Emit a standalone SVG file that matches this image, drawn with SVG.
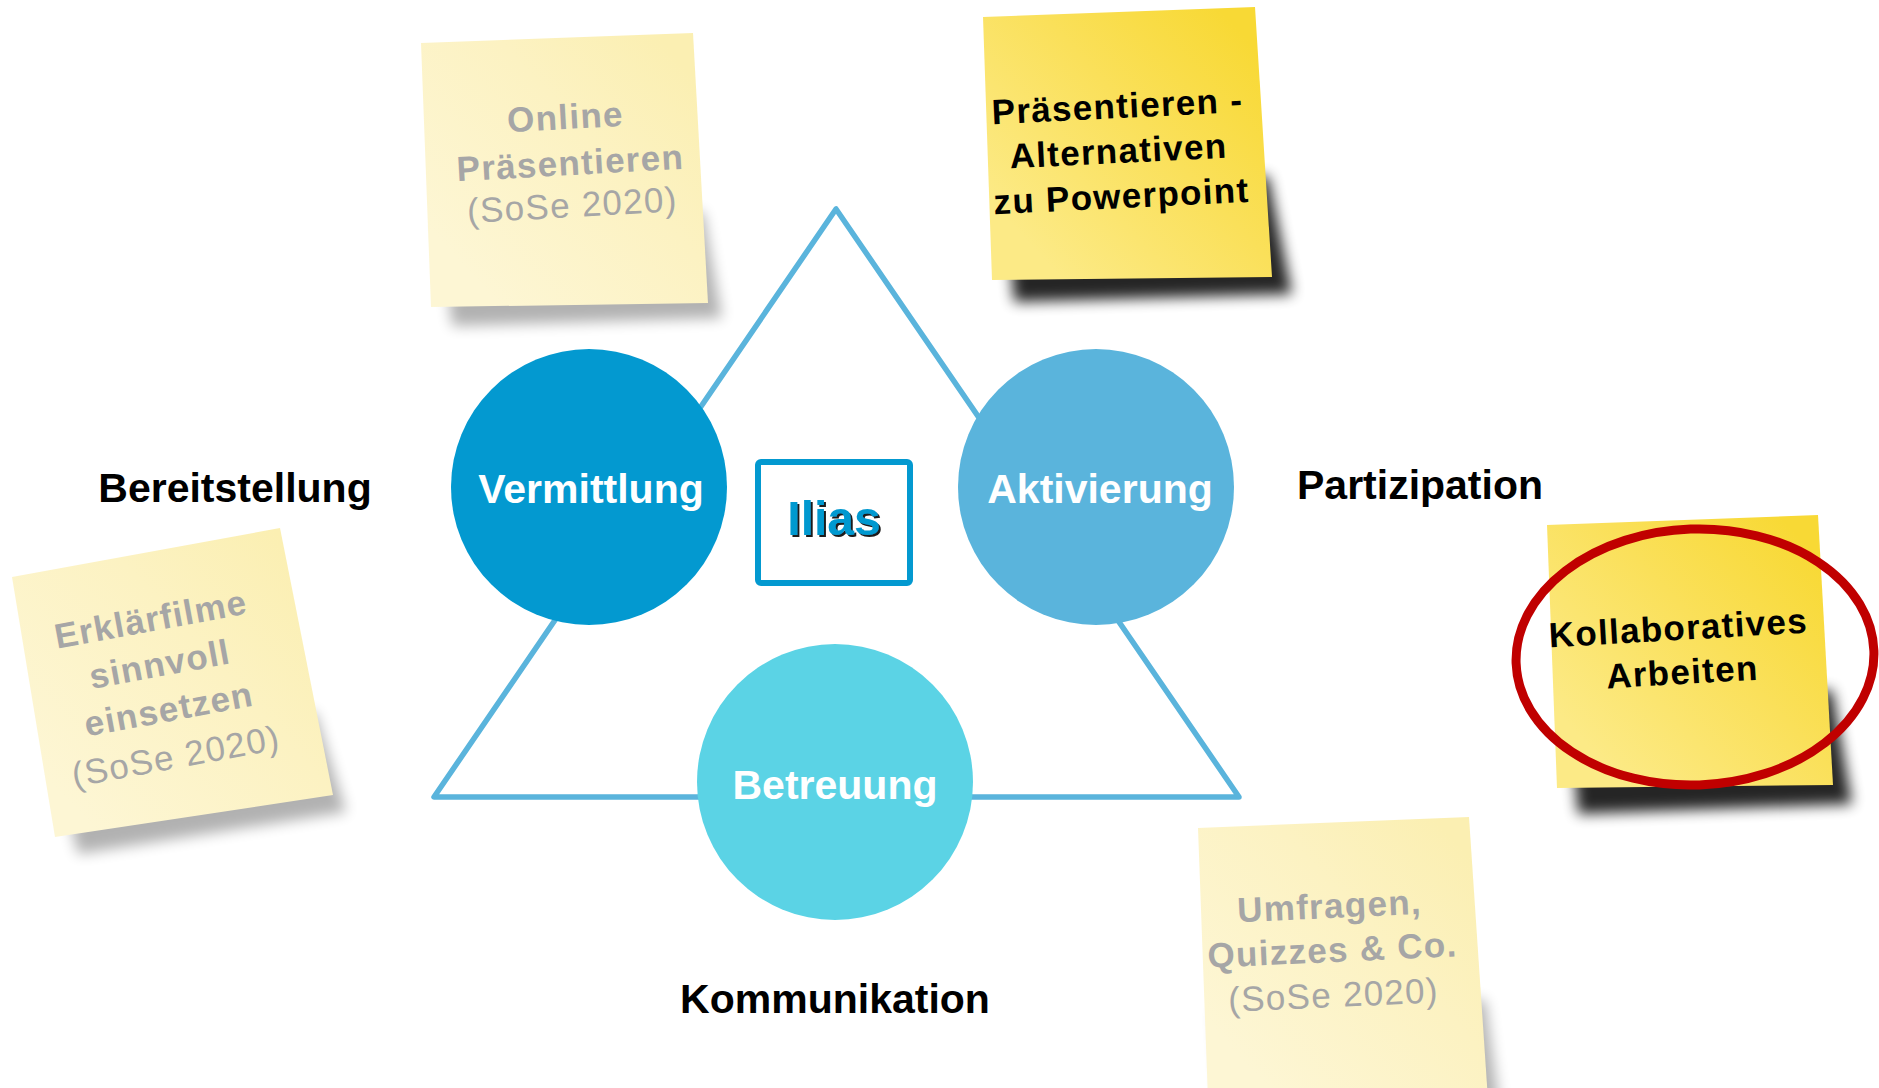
<svg xmlns="http://www.w3.org/2000/svg" width="1879" height="1088" viewBox="0 0 1879 1088">
<style>
.lbl{font-family:"Liberation Sans",Arial,sans-serif;font-weight:bold;font-size:41px;fill:#000;text-anchor:middle}
.ctxt{font-family:"Liberation Sans",Arial,sans-serif;font-weight:bold;font-size:41px;fill:#fff;text-anchor:middle}
.nb{font-family:"Liberation Sans",Arial,sans-serif;font-weight:bold;font-size:35px;letter-spacing:1.3px;text-anchor:middle}
.nr{font-family:"Liberation Sans",Arial,sans-serif;font-weight:normal;font-size:35px;letter-spacing:1.3px;text-anchor:middle}
.gray{fill:#a6a6a6}
.blk{fill:#000}
.pale{fill:url(#gPale)}
.yel{fill:url(#gYel)}
.shP{fill:#000;opacity:0.3;filter:url(#blur)}
.shY{fill:#000;opacity:0.85;filter:url(#blur)}
</style>
<defs>
<linearGradient id="gPale" x1="0.1" y1="0.8" x2="0.9" y2="0.1">
<stop offset="0" stop-color="#fdf6d4"/>
<stop offset="0.6" stop-color="#fcf2c2"/>
<stop offset="1" stop-color="#fbefb2"/>
</linearGradient>
<linearGradient id="gYel" x1="0.1" y1="0.8" x2="0.9" y2="0.1">
<stop offset="0" stop-color="#fcea86"/>
<stop offset="0.55" stop-color="#fae05a"/>
<stop offset="1" stop-color="#f8d935"/>
</linearGradient>
<filter id="blur" x="-20%" y="-30%" width="140%" height="160%">
<feGaussianBlur stdDeviation="7"/>
</filter>
<filter id="ds" x="-10%" y="-10%" width="130%" height="130%">
<feDropShadow dx="2" dy="2" stdDeviation="0.6" flood-color="#1a1a1a" flood-opacity="1"/>
</filter>
</defs>
<rect x="0" y="0" width="1879" height="1088" fill="#fff"/>

<g id="connectors">
<polygon points="836,209 434,797 1239,797" fill="none" stroke="#5ab4dc" stroke-width="5.5" stroke-linejoin="round"/>
</g>

<g id="note-online">
<polygon class="shP" points="440,220 703,212 722,318 452,326"/>
<polygon class="pale" points="421,43 693,33 708,303 431,307"/>
<text class="nb gray" transform="translate(566,129) rotate(-3.2)">Online</text>
<text class="nb gray" transform="translate(571,175) rotate(-3.2)">Präsentieren</text>
<text class="nr gray" transform="translate(573,217) rotate(-3.2)">(SoSe 2020)</text>
</g>

<g id="note-praesentieren">
<polygon class="shY" points="1004,185 1268,176 1292,294 1014,302"/>
<polygon class="yel" points="983,17 1255,7 1272,277 992,280"/>
<text class="nb blk" transform="translate(1118,118) rotate(-2.8)">Präsentieren -</text>
<text class="nb blk" transform="translate(1119,163) rotate(-2.8)">Alternativen</text>
<text class="nb blk" transform="translate(1122,208) rotate(-2.8)">zu Powerpoint</text>
</g>

<g id="note-erklaerfilme">
<polygon class="shP" points="55,760 315,712 346,812 78,854"/>
<polygon class="pale" points="12,577 280,528 333,795 55,837"/>
<text class="nb gray" transform="translate(153,631) rotate(-10.5)">Erklärfilme</text>
<text class="nb gray" transform="translate(162,676) rotate(-10.5)">sinnvoll</text>
<text class="nb gray" transform="translate(171,721) rotate(-10.5)">einsetzen</text>
<text class="nr gray" transform="translate(178,768) rotate(-10.5)">(SoSe 2020)</text>
</g>

<g id="note-umfragen">
<polygon class="shP" points="1215,1010 1485,1000 1500,1110 1222,1110"/>
<polygon class="pale" points="1198,828 1469,817 1488,1100 1208,1100"/>
<text class="nb gray" transform="translate(1330,918) rotate(-2.6)">Umfragen,</text>
<text class="nb gray" transform="translate(1333,962) rotate(-2.6)">Quizzes &amp; Co.</text>
<text class="nr gray" transform="translate(1334,1007) rotate(-2.6)">(SoSe 2020)</text>
</g>

<g id="note-kollaborativ">
<polygon class="shY" points="1568,700 1832,690 1852,804 1578,814"/>
<polygon class="yel" points="1547,525 1818,515 1833,785 1557,788"/>
<text class="nb blk" transform="translate(1679,640) rotate(-3.3)">Kollaboratives</text>
<text class="nb blk" transform="translate(1683,684) rotate(-3.3)">Arbeiten</text>
</g>

<g id="highlight">
<ellipse cx="1695" cy="657" rx="179" ry="128" fill="none" stroke="#c00000" stroke-width="9" transform="rotate(-2 1695 657)"/>
</g>

<g id="vermittlung">
<circle cx="589" cy="487" r="138" fill="#0399d0"/>
<text class="ctxt" x="591" y="503">Vermittlung</text>
</g>

<g id="aktivierung">
<circle cx="1096" cy="487" r="138" fill="#5ab4dc"/>
<text class="ctxt" x="1100" y="503">Aktivierung</text>
</g>

<g id="betreuung">
<circle cx="835" cy="782" r="138" fill="#5bd3e5"/>
<text class="ctxt" x="835" y="799">Betreuung</text>
</g>

<g id="ilias">
<rect x="758" y="462" width="152" height="121" rx="3" fill="#fff" stroke="#0399d0" stroke-width="6"/>
<text x="834" y="535" font-family="'Liberation Sans',Arial,sans-serif" font-weight="bold" font-size="48" fill="#0399d0" text-anchor="middle" filter="url(#ds)">Ilias</text>
</g>

<g id="labels">
<text class="lbl" x="235" y="502">Bereitstellung</text>
<text class="lbl" x="1420" y="499">Partizipation</text>
<text class="lbl" x="835" y="1013">Kommunikation</text>
</g>
</svg>
